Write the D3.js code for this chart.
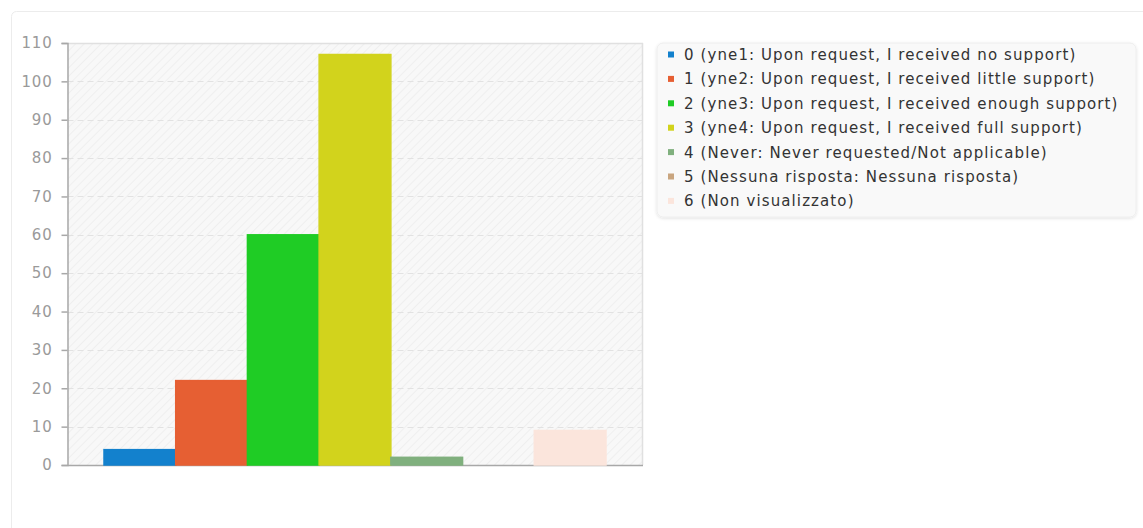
<!DOCTYPE html>
<html>
<head>
<meta charset="utf-8">
<script src="https://cdn.jsdelivr.net/npm/d3@7/dist/d3.min.js"></script>
<style>
  html, body { margin: 0; padding: 0; background: #fff; }
  svg { display: block; font-family: "DejaVu Sans", sans-serif; }
</style>
</head>
<body>
<svg id="chart" width="1143" height="528"></svg>
<script>
const categories = [
  "0 (yne1: Upon request, I received no support)",
  "1 (yne2: Upon request, I received little support)",
  "2 (yne3: Upon request, I received enough support)",
  "3 (yne4: Upon request, I received full support)",
  "4 (Never: Never requested/Not applicable)",
  "5 (Nessuna risposta: Nessuna risposta)",
  "6 (Non visualizzato)"
];
const values = [4, 22, 60, 107, 2, 0, 9];
const colors = ["#1381cd", "#e65f33", "#1fcc25", "#d2d31c", "#80b07e", "#c9a57f", "#fbe5dc"];
const yTicks = [0, 10, 20, 30, 40, 50, 60, 70, 80, 90, 100, 110];

const svg = d3.select("#chart");
const defs = svg.append("defs");
const pat = defs.append("pattern").attr("id", "hatch").attr("patternUnits", "userSpaceOnUse")
  .attr("width", 6).attr("height", 6).attr("patternTransform", "rotate(45)");
pat.append("rect").attr("width", 6).attr("height", 6).attr("fill", "#f8f8f8");
pat.append("line").attr("x1", 0).attr("y1", 0).attr("x2", 0).attr("y2", 6)
  .attr("stroke", "#efefef").attr("stroke-width", 2);
const shadow = defs.append("filter").attr("id", "shadow").attr("x", "-5%").attr("y", "-5%").attr("width", "110%").attr("height", "115%");
shadow.append("feDropShadow").attr("dx", 0).attr("dy", 1).attr("stdDeviation", 1.5).attr("flood-color", "#000").attr("flood-opacity", 0.12);

// card
svg.append("rect").attr("x", 11.5).attr("y", 11.5).attr("width", 1160).attr("height", 560)
  .attr("rx", 5).attr("fill", "#fff").attr("stroke", "#ececec");

const m = { left: 67.5, top: 43, right: 643, bottom: 465 };
const x = d3.scaleBand().domain(d3.range(categories.length)).range([104, 606]).padding(0);
const y = d3.scaleLinear().domain([0, 110]).range([m.bottom, m.top]);

const g = svg.append("g");
g.append("rect").attr("x", m.left).attr("y", m.top).attr("width", m.right - m.left).attr("height", m.bottom - m.top)
  .attr("fill", "url(#hatch)");

// grid
g.selectAll("line.grid").data(yTicks.filter(d => d > 0 && d < 110)).join("line")
  .attr("class", "grid")
  .attr("x1", m.left).attr("x2", m.right)
  .attr("y1", d => Math.round(y(d)) + 0.5).attr("y2", d => Math.round(y(d)) + 0.5)
  .attr("stroke", "#e2e2e2").attr("stroke-dasharray", "6,4");

// top & right border
g.append("line").attr("x1", m.left).attr("x2", m.right).attr("y1", m.top + 0.5).attr("y2", m.top + 0.5).attr("stroke", "#e0e0e0").attr("stroke-width", 1.5);
g.append("line").attr("x1", m.right - 0.5).attr("x2", m.right - 0.5).attr("y1", m.top).attr("y2", m.bottom).attr("stroke", "#e0e0e0").attr("stroke-width", 1.5);

// bottom axis line
g.append("line").attr("x1", m.left).attr("x2", m.right).attr("y1", m.bottom + 0.5).attr("y2", m.bottom + 0.5)
  .attr("stroke", "#a8a8a8").attr("stroke-width", 1.5);

// bars
g.selectAll("rect.bar").data(values).join("rect")
  .attr("class", "bar")
  .attr("x", (d, i) => x(i)).attr("width", x.bandwidth())
  .attr("y", d => y(d)).attr("height", d => y(0) - y(d))
  .attr("fill", (d, i) => colors[i])
  .attr("stroke", (d, i) => colors[i])
  .attr("stroke-width", 1.5);

// axes
const yAxis = d3.axisLeft(y).tickValues(yTicks).tickSize(6).tickPadding(9).tickFormat(d3.format("d"));
const ya = g.append("g").attr("transform", `translate(${m.left},0)`).call(yAxis);
ya.select(".domain").attr("stroke", "#a8a8a8").attr("stroke-width", 1.5);
ya.selectAll(".tick line").attr("stroke", "#a8a8a8").attr("stroke-width", 1.5);
ya.selectAll(".tick text").attr("fill", "#9a9a9a").attr("font-size", 15).attr("letter-spacing", 0.8)
  .attr("font-family", "DejaVu Sans");

// legend
const lg = svg.append("g");
lg.append("rect").attr("x", 657).attr("y", 43).attr("width", 479).attr("height", 174).attr("rx", 6)
  .attr("fill", "#f9f9f9").attr("stroke", "#eeeeee").attr("filter", "url(#shadow)");
const items = lg.selectAll("g.item").data(categories).join("g").attr("class", "item")
  .attr("transform", (d, i) => `translate(668, ${54.5 + i * 24.4})`);
items.append("rect").attr("x", 0).attr("y", -3).attr("width", 6).attr("height", 6).attr("fill", (d, i) => colors[i]);
items.append("text").attr("x", 16).attr("y", 0).attr("dy", "0.36em").attr("font-size", 15)
  .attr("letter-spacing", 1.1).attr("fill", "#333")
  .text(d => d);
</script>
</body>
</html>
